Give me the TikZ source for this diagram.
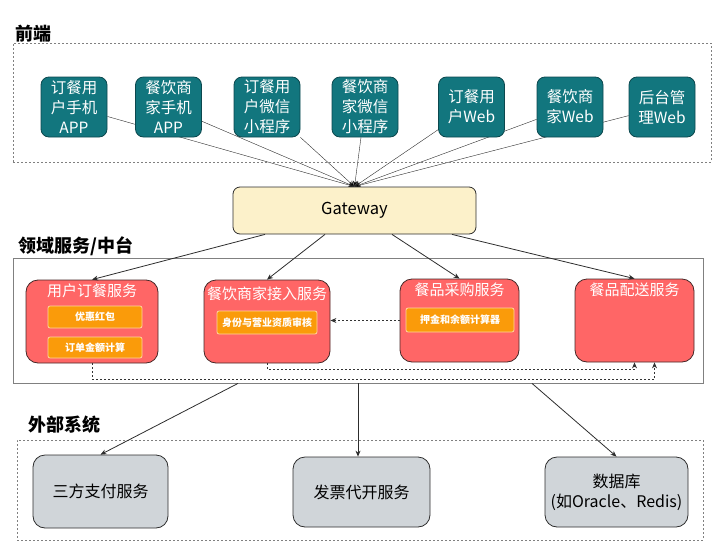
\documentclass[tikz,border=0pt]{standalone}
\usepackage{fontspec}
\setmainfont{Noto Sans CJK SC}
\usepackage{xcolor}
\usepackage{tikz}
\usetikzlibrary{arrows.meta,backgrounds}
\definecolor{appteal}{RGB}{18, 118, 126}
\definecolor{appedge}{RGB}{12, 72, 78}
\definecolor{gwyellow}{RGB}{252, 241, 202}
\definecolor{svcred}{RGB}{255, 102, 102}
\definecolor{svcedge}{RGB}{70, 40, 40}
\definecolor{subor}{RGB}{250, 155, 10}
\definecolor{suborline}{RGB}{255, 214, 160}
\definecolor{extgray}{RGB}{208, 213, 217}
\definecolor{lineg}{RGB}{45, 45, 45}

\begin{document}
\begin{tikzpicture}[x=1pt, y=-1pt, line width=0.8pt,
    app/.style = {draw=appedge, fill=appteal, rounded corners=8pt, text=white, align=center,
                  minimum width=66pt, minimum height=60pt, inner sep=0pt,
                  font=\fontsize{15.5}{20}\selectfont},
    svc/.style = {draw=svcedge, fill=svcred, rounded corners=12pt, minimum height=83pt, inner sep=0pt},
    svctitle/.style = {text=white, inner sep=0pt, font=\fontsize{15}{18}\selectfont},
    sub/.style = {draw=suborline, fill=subor, rounded corners=2pt, text=white, inner sep=0pt,
                  font=\bfseries\fontsize{10}{12}\selectfont},
    ext/.style = {draw=lineg, fill=extgray, rounded corners=12pt, align=center, inner sep=0pt,
                  minimum height=70pt, font=\fontsize{16}{20}\selectfont},
    head/.style = {anchor=west, inner sep=0pt, font=\bfseries\fontsize{18}{20}\selectfont},
    frame/.style = {draw=gray, dash pattern=on 2pt off 2pt, inner sep=0pt},
    arr/.style = {draw=lineg, -{Stealth[length=6pt, width=5pt]}},
    dep/.style = {draw=black!80, dash pattern=on 2pt off 2pt, -{Stealth[length=6pt, width=5pt]}}]
    \useasboundingbox (0,0) rectangle (720,549);

    % front end
    \node (front) at (362,102.5) [frame, minimum width=698pt, minimum height=119pt] {};
    \node (fronthd) at (15,34) [head] {前端};
    \node (t1) at (74,107) [app] {订餐用\\户手机\\APP};
    \node (t2) at (168.5,107) [app] {餐饮商\\家手机\\APP};
    \node (t3) at (267,107) [app] {订餐用\\户微信\\小程序};
    \node (t4) at (365,107) [app] {餐饮商\\家微信\\小程序};
    \node (t5) at (471.5,107) [app] {订餐用\\户Web};
    \node (t6) at (570,107) [app] {餐饮商\\家Web};
    \node (t7) at (662,107) [app] {后台管\\理Web};

    \node (gw) at (354.5,210.5) [draw=lineg, fill=gwyellow, rounded corners=7pt,
        minimum width=243pt, minimum height=47pt, font=\fontsize{16.5}{18}\selectfont] {Gateway};

    \begin{scope}[on background layer]
    \draw[arr] (t1) edge (gw.north);
    \draw[arr] (t2) edge (gw.north);
    \draw[arr] (t3) edge (gw.north);
    \draw[arr] (t4) edge (gw.north);
    \draw[arr] (t5) edge (gw.north);
    \draw[arr] (t6) edge (gw.north);
    \draw[arr] (t7) edge (gw.north);
    \end{scope}

    % domain services
    \node (domain) at (358,320.5) [draw=gray, inner sep=0pt, minimum width=690pt, minimum height=125pt] {};
    \node (domainhd) at (18,246) [head] {领域服务/中台};
    \node (r1) at (92,321.5) [svc, minimum width=132pt] {};
    \node (r2) at (267,321.5) [svc, minimum width=126pt] {};
    \node (r3) at (459.5,320.5) [svc, minimum width=119pt] {};
    \node (r4) at (634.5,320.5) [svc, minimum width=119pt] {};
    \node (r1t) at (92,291) [svctitle] {用户订餐服务};
    \node (r2t) at (267,294) [svctitle] {餐饮商家接入服务};
    \node (r3t) at (459.5,290) [svctitle] {餐品采购服务};
    \node (r4t) at (634.5,290) [svctitle] {餐品配送服务};
    \node (o1) at (95,317) [sub, minimum width=94pt, minimum height=22pt] {优惠红包};
    \node (o2) at (95,347.5) [sub, minimum width=94pt, minimum height=21pt] {订单金额计算};
    \node (o3) at (267,322.5) [sub, minimum width=100pt, minimum height=23pt] {身份与营业资质审核};
    \node (o4) at (460,320) [sub, minimum width=108pt, minimum height=24pt] {押金和余额计算器};

    \draw[arr] ([xshift=-89.5pt]gw.south) -- (r1.north);
    \draw[arr] ([xshift=-29.5pt]gw.south) -- (r2.north);
    \draw[arr] ([xshift=37.5pt]gw.south) -- (r3.north);
    \draw[arr] ([xshift=97.5pt]gw.south) -- (r4.north);

    \draw[dep] (r3.west) -- (r3.west -| r2.east);
    \draw[dep] (r1.south) -- ++(0,16) -| ([xshift=20pt]r4.south);
    \draw[dep] (r2.south) -- ++(0,6) -| (r4.south);

    % external systems
    \node (extern) at (360,490) [frame, minimum width=686pt, minimum height=100pt] {};
    \node (externhd) at (28,425) [head] {外部系统};
    \node (e1) at (100.5,491.5) [ext, minimum width=135pt, minimum height=73pt] {三方支付服务};
    \node (e2) at (361.5,492) [ext, minimum width=137pt] {发票代开服务};
    \node (e3) at (616.5,492) [ext, minimum width=143pt] {数据库\\(如Oracle、Redis)};

    \draw[arr] ([xshift=-120pt]domain.south) -- (e1.north);
    \draw[arr] (domain.south) -- (domain.south |- e2.north);
    \draw[arr] ([xshift=174pt]domain.south) -- (e3.north);
\end{tikzpicture}
\end{document}
